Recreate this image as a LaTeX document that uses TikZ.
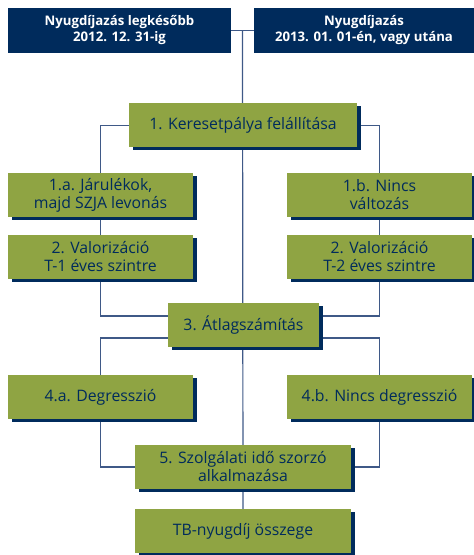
\documentclass[tikz,border=0pt]{standalone}
\usepackage{fontspec}
\setmainfont{Open Sans}
\usetikzlibrary{positioning,shadows,backgrounds}
\definecolor{boxnavy}{HTML}{002B5C}
\definecolor{boxgreen}{HTML}{8FA443}
\definecolor{linkblue}{HTML}{3F5987}

\begin{document}
\begin{tikzpicture}
[x=1pt,y=1pt,
navybox/.style = {fill=boxnavy, text=white, font=\bfseries\fontsize{13.2}{16}\selectfont, align=center, inner sep=0pt, minimum height=45pt},
greenbox/.style = {fill=boxgreen, text=boxnavy, font=\fontsize{15.8}{18}\selectfont, align=center, inner sep=0pt, minimum height=44pt,
  drop shadow={shadow xshift=4pt, shadow yshift=-3pt, fill=boxnavy, opacity=1}},
sidebox/.style = {greenbox, minimum width=185pt},
link/.style = {draw=linkblue, line width=1.2pt},]
\useasboundingbox (0,0) rectangle (474,555);

\node (early) at (119.5,524.5)[navybox, minimum width=223pt] {Nyugdíjazás legkésőbb\\2012. 12. 31-ig};
\node (late) at (364,524.5)[navybox, minimum width=220pt] {Nyugdíjazás\\2013. 01. 01-én, vagy utána};
\coordinate (fork) at (242.5,524.5);

\node (career) at (243,429.5)[greenbox, minimum width=228pt] {1. Keresetpálya felállítása};
\node (contrib) at (100.5,360)[sidebox] {1.a. Járulékok,\\majd SZJA levonás};
\node (nochange) at (379.5,360)[sidebox] {1.b. Nincs\\változás};
\node (valA) at (100.5,298)[sidebox] {2. Valorizáció\\T-1 éves szintre};
\node (valB) at (379.5,298)[sidebox] {2. Valorizáció\\T-2 éves szintre};
\node (average) at (243.5,230)[greenbox, minimum width=151pt] {3. Átlagszámítás};
\node (degr) at (100.5,158)[sidebox] {4.a. Degresszió};
\node (nodegr) at (379.5,158)[sidebox] {4.b. Nincs degresszió};
\node (service) at (243,88)[greenbox, minimum width=216pt] {5. Szolgálati idő szorzó\\alkalmazása};
\node (total) at (243,24)[greenbox, minimum width=216pt] {TB-nyugdíj összege};

\begin{scope}[on background layer]
\draw[link] (early.east)--(late.west);
\draw[link] (fork)--(total.north);
\draw[link] (career.west) -| (contrib.north);
\draw[link] (career.east) -| (nochange.north);
\draw[link] (contrib.south)--(valA.north);
\draw[link] (nochange.south)--(valB.north);
\draw[link] (valA.south) |- ([yshift=9pt]average.west);
\draw[link] (valB.south) |- ([yshift=9pt]average.east);
\draw[link] ([yshift=-13pt]average.west) -| (degr.north);
\draw[link] ([yshift=-13pt]average.east) -| (nodegr.north);
\draw[link] (degr.south) |- (service.west);
\draw[link] (nodegr.south) |- (service.east);
\end{scope}
\end{tikzpicture}
\end{document}
